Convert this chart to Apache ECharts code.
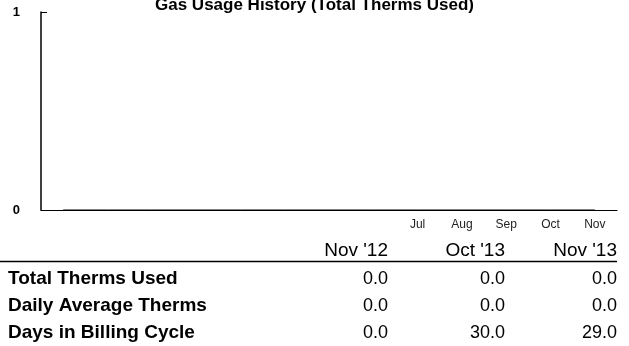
<!DOCTYPE html>
<html>
<head>
<meta charset="utf-8">
<script src="https://cdn.jsdelivr.net/npm/echarts@6/dist/echarts.min.js"></script>
<style>
  html, body { margin: 0; padding: 0; background: #fff; }
  #chart { width: 629px; height: 346px; }
</style>
</head>
<body>
<div id="chart"></div>
<script>
// Billing months shown on the usage chart (Nov '12 through Nov '13)
const months = ["Nov '12", "Dec '12", "Jan '13", "Feb '13", "Mar '13", "Apr '13", "May '13",
                "Jun '13", "Jul '13", "Aug '13", "Sep '13", "Oct '13", "Nov '13"];
// Short labels printed under the axis (only the recent months carry one)
const monthTicks = ["", "", "", "", "", "", "", "", "Jul", "Aug", "Sep", "Oct", "Nov"];
// Therms used per month
const thermsUsed = [0, 0, 0, 0, 0, 0, 0, 0, 0, 0, 0, 0, 0];
const yTicks = [0, 1];

// Summary table below the chart
const summaryColumns = ["Nov '12", "Oct '13", "Nov '13"];
const rowNames = ["Total Therms Used", "Daily Average Therms", "Days in Billing Cycle"];
const totalTherms = [0.0, 0.0, 0.0];
const dailyAverage = [0.0, 0.0, 0.0];
const billingDays = [0.0, 30.0, 29.0];

const FONT = "'Liberation Sans', Arial, Helvetica, sans-serif";
const colRight = [388, 505, 617];
const rowY = [279, 306, 333];

const chart = echarts.init(document.getElementById('chart'), null, { renderer: 'canvas' });

const tableRows = [totalTherms, dailyAverage, billingDays];
const graphics = [];
summaryColumns.forEach((c, i) => {
  graphics.push({
    type: 'text', x: colRight[i], y: 260,
    style: { text: c, font: "19px " + FONT, fill: '#000', align: 'right', verticalAlign: 'bottom' }
  });
});
graphics.push({
  type: 'line', shape: { x1: 0, y1: 261.5, x2: 617, y2: 261.5 },
  style: { stroke: '#000', lineWidth: 1.5 }
});
rowNames.forEach((name, r) => {
  graphics.push({
    type: 'text', x: 8, y: rowY[r],
    style: { text: name, font: "bold 19px " + FONT, fill: '#000', align: 'left', verticalAlign: 'middle' }
  });
  tableRows[r].forEach((v, i) => {
    graphics.push({
      type: 'text', x: colRight[i], y: rowY[r],
      style: { text: v.toFixed(1), font: "18px " + FONT, fill: '#000', align: 'right', verticalAlign: 'middle' }
    });
  });
});

chart.setOption({
  animation: false,
  backgroundColor: '#fff',
  title: {
    text: 'Gas Usage History (Total Therms Used)',
    left: 'center',
    top: -8,
    textStyle: { fontFamily: FONT, fontSize: 17, fontWeight: 'bold', color: '#000' }
  },
  grid: { left: 41, right: 12, top: 12, bottom: 136 },
  xAxis: {
    type: 'category',
    data: months,
    boundaryGap: true,
    axisLine: { show: true, lineStyle: { color: '#000', width: 1 } },
    axisTick: { show: false },
    axisLabel: {
      interval: 0,
      margin: 9,
      fontFamily: FONT,
      fontSize: 12,
      color: '#222',
      formatter: (val, idx) => monthTicks[idx]
    },
    splitLine: { show: false }
  },
  yAxis: {
    type: 'value',
    min: yTicks[0],
    max: yTicks[yTicks.length - 1],
    interval: 1,
    axisLine: { show: true, lineStyle: { color: '#000', width: 1.5 } },
    axisTick: { show: true, inside: true, length: 6, lineStyle: { color: '#000' } },
    axisLabel: { margin: 21, fontFamily: FONT, fontSize: 13, fontWeight: 'bold', color: '#000' },
    splitLine: { show: false }
  },
  series: [{
    type: 'line',
    data: thermsUsed,
    symbol: 'none',
    lineStyle: { color: '#000', width: 1 },
    clip: false
  }],
  graphic: graphics
});
</script>
</body>
</html>
